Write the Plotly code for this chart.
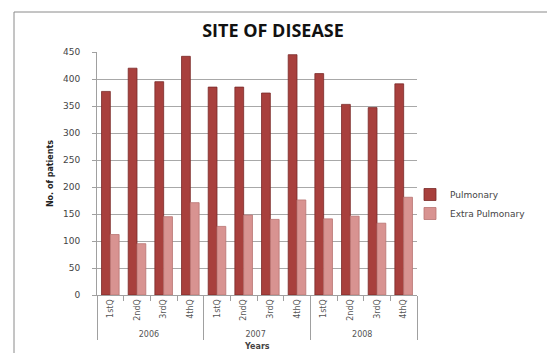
import plotly.graph_objects as go

# Quarterly counts of patients by site of disease
years = ["2006"] * 4 + ["2007"] * 4 + ["2008"] * 4
quarters = ["1stQ", "2ndQ", "3rdQ", "4thQ"] * 3
pulmonary = [377, 420, 395, 442, 385, 385, 374, 445, 410, 353, 347, 391]
extra_pulmonary = [112, 95, 145, 171, 127, 148, 140, 176, 141, 146, 133, 181]

W, H = 547, 353
L, R, T, B = 97, 130, 52, 58

def px_x(p):
    return (p - L) / (W - L - R)

def px_y(p):
    return (H - B - p) / (H - T - B)

fig = go.Figure()
fig.add_trace(go.Bar(
    x=[years, quarters], y=pulmonary, name="Pulmonary",
    marker=dict(color="#A8403D", line=dict(color="#7A2A28", width=0.8)),
))
fig.add_trace(go.Bar(
    x=[years, quarters], y=extra_pulmonary, name="Extra Pulmonary",
    marker=dict(color="#D89391", line=dict(color="#B97472", width=0.8)),
))

fig.update_layout(
    width=W, height=H,
    margin=dict(l=L, r=R, t=T, b=B),
    paper_bgcolor="white", plot_bgcolor="white",
    barmode="group", bargap=0.34, bargroupgap=0.0,
    font=dict(family="DejaVu Sans", color="#444444"),
    showlegend=True,
    legend=dict(x=px_x(410), y=px_y(180), xanchor="left", yanchor="top",
                font=dict(size=9, color="#444444"), bgcolor="rgba(0,0,0,0)",
                itemwidth=30, tracegroupgap=0),
    title=dict(text="<b>SITE OF DISEASE</b>", xref="container", x=273 / W,
               xanchor="center", y=1 - 31 / H, yanchor="middle",
               font=dict(size=18, family="Open Sans", color="#111111")),
)

fig.update_yaxes(
    range=[0, 450], dtick=50, showgrid=True, gridcolor="#A8A8A8", gridwidth=1,
    showline=True, linecolor="#A0A0A0", ticks="outside", ticklen=4,
    tickcolor="#A0A0A0", tickfont=dict(size=9, color="#444444"),
    ticklabelstandoff=10,
    title=dict(text="<b>No. of patients</b>", font=dict(size=8, color="#222222"),
               standoff=8),
    zeroline=False,
)
fig.update_xaxes(
    type="multicategory", showline=True, linecolor="#A0A0A0",
    tickangle=-90, tickfont=dict(size=8, color="#555555"),
    showdividers=True, dividercolor="#A0A0A0", dividerwidth=1,
    ticks="outside", tickcolor="#A0A0A0",
)

# Chart area border
fig.add_shape(type="rect", xref="paper", yref="paper",
              x0=px_x(14), x1=px_x(560), y0=px_y(370), y1=px_y(12),
              line=dict(color="#8A8A8A", width=1), fillcolor="rgba(0,0,0,0)",
              layer="below")

# Axis title below the year labels
fig.add_annotation(text="<b>Years</b>", xref="paper", yref="paper",
                   x=px_x(257), y=px_y(340), xanchor="center", yanchor="top",
                   showarrow=False, font=dict(size=8, color="#444444"))

fig.write_html("out.html")
